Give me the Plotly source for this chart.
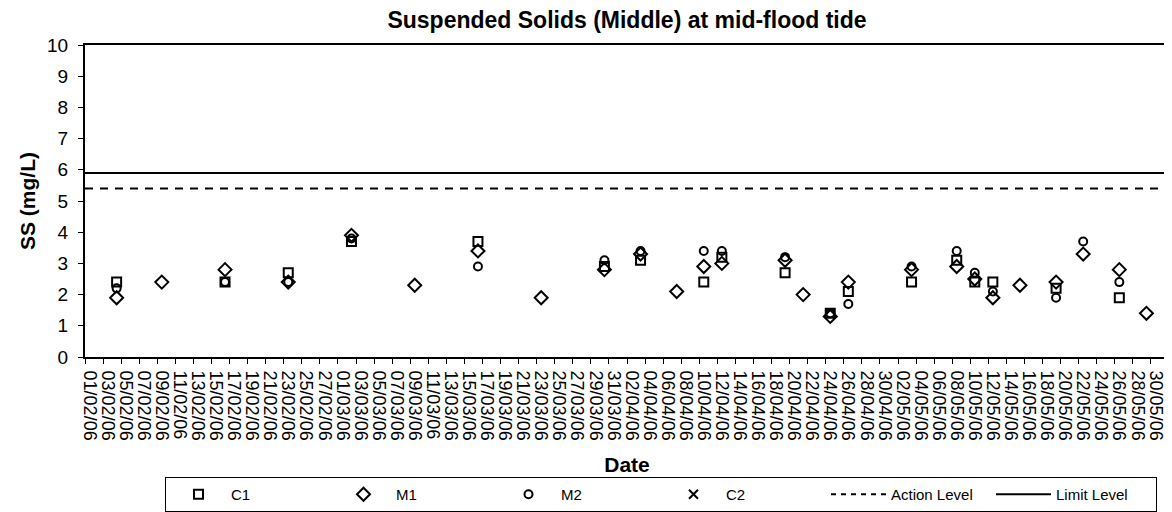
import plotly.graph_objects as go

# ---- data ----
dates = ["2006-02-04", "2006-02-09", "2006-02-16", "2006-02-23", "2006-03-02",
         "2006-03-09", "2006-03-16", "2006-03-23", "2006-03-30", "2006-04-03",
         "2006-04-07", "2006-04-10", "2006-04-12", "2006-04-19", "2006-04-21",
         "2006-04-24", "2006-04-26", "2006-05-03", "2006-05-08", "2006-05-10",
         "2006-05-12", "2006-05-15", "2006-05-19", "2006-05-22", "2006-05-26",
         "2006-05-29"]
c1 = [2.4, None, 2.4, 2.7, 3.7, None, 3.7, None, 2.9, 3.1, None, 2.4, 3.2, 2.7, None,
      1.4, 2.1, 2.4, 3.1, 2.4, 2.4, None, 2.2, None, 1.9, None]
m1 = [1.9, 2.4, 2.8, 2.4, 3.9, 2.3, 3.4, 1.9, 2.8, 3.3, 2.1, 2.9, 3.0, 3.1, 2.0,
      1.3, 2.4, 2.8, 2.9, 2.5, 1.9, 2.3, 2.4, 3.3, 2.8, 1.4]
m2 = [2.2, None, 2.4, 2.4, 3.8, None, 2.9, None, 3.1, 3.4, None, 3.4, 3.4, 3.2, None,
      1.4, 1.7, 2.9, 3.4, 2.7, 2.1, None, 1.9, 3.7, 2.4, None]
c2 = [None] * len(dates)
ACTION_LEVEL = 5.4
LIMIT_LEVEL = 5.9

x_start = "2006-01-31 12:00"
x_end = "2006-05-31 12:00"
y_ticks = list(range(0, 11))

FONT = "Arial, Liberation Sans, Helvetica, sans-serif"
DAY2 = 2 * 86400000

# the page body has an 8px margin, so the figure is sized to fit inside the window
W, H = 1164, 504
ML, MR, MT, MB = 77, 3, 37, 155
PW, PH = W - ML - MR, H - MT - MB

fig = go.Figure()

def add_series(name, vals, symbol, size):
    fig.add_trace(go.Scatter(
        x=dates, y=vals, mode="markers", name=name,
        marker=dict(symbol=symbol, size=size, color="black",
                    line=dict(color="black", width=2)),
    ))

add_series("C1", c1, "square-open", 9)
add_series("M1", m1, "diamond-open", 10)
add_series("M2", m2, "circle-open", 8)
add_series("C2", c2, "x-thin-open", 9)

# legend entries for the level lines
fig.add_trace(go.Scatter(x=[None], y=[None], mode="lines", name="Action Level",
                         line=dict(color="black", width=2, dash="5px,5px")))
fig.add_trace(go.Scatter(x=[None], y=[None], mode="lines", name="Limit Level",
                         line=dict(color="black", width=2)))

fig.add_shape(type="line", xref="x domain", yref="y", x0=0, x1=1,
              y0=ACTION_LEVEL, y1=ACTION_LEVEL,
              line=dict(color="black", width=2, dash="8px,7px"))
fig.add_shape(type="line", xref="x domain", yref="y", x0=0, x1=1,
              y0=LIMIT_LEVEL, y1=LIMIT_LEVEL,
              line=dict(color="black", width=2))

fig.update_layout(
    width=W, height=H,
    margin=dict(l=ML, r=MR, t=MT, b=MB, autoexpand=False),
    paper_bgcolor="white", plot_bgcolor="white",
    font=dict(family=FONT, color="black"),
    title=dict(text="<b>Suspended Solids (Middle) at mid-flood tide</b>",
               x=0.5, xref="paper", xanchor="center",
               y=1 - 4 / H, yref="container", yanchor="top",
               font=dict(size=23, family=FONT, color="black")),
    showlegend=True,
    legend=dict(orientation="h", x=(157 - ML) / PW, xanchor="left",
                y=(MT + PH - 469) / PH, yanchor="top",
                bordercolor="black", borderwidth=1, bgcolor="white",
                font=dict(size=15, family=FONT, color="black"),
                itemwidth=55, entrywidth=95, entrywidthmode="pixels",
                tracegroupgap=0),
)

fig.update_xaxes(
    type="date", range=[x_start, x_end], automargin=False,
    tick0="2006-02-01", dtick=DAY2, tickformat="%d/%m/%y",
    tickangle=90, ticks="outside", ticklen=8, tickcolor="rgba(0,0,0,0)",
    tickfont=dict(size=18, family=FONT, color="black"),
    minor=dict(tick0=x_start, dtick=DAY2, ticks="outside", ticklen=5,
               tickcolor="black", tickwidth=1, showgrid=False),
    showline=True, linecolor="black", linewidth=2, mirror=True,
    showgrid=False, zeroline=False,
    title=dict(text="<b>Date</b>", standoff=18,
               font=dict(size=21, family=FONT, color="black")),
)
fig.update_yaxes(
    range=[0, 10], tickvals=y_ticks, ticks="outside", ticklen=5, automargin=False,
    tickcolor="black", tickwidth=1, ticklabelstandoff=6,
    tickfont=dict(size=19, family=FONT, color="black"),
    showline=True, linecolor="black", linewidth=2, mirror=True,
    showgrid=False, zeroline=False,
    title=dict(text="<b>SS (mg/L)</b>", standoff=6,
               font=dict(size=21, family=FONT, color="black")),
)

fig.write_html("out.html")
